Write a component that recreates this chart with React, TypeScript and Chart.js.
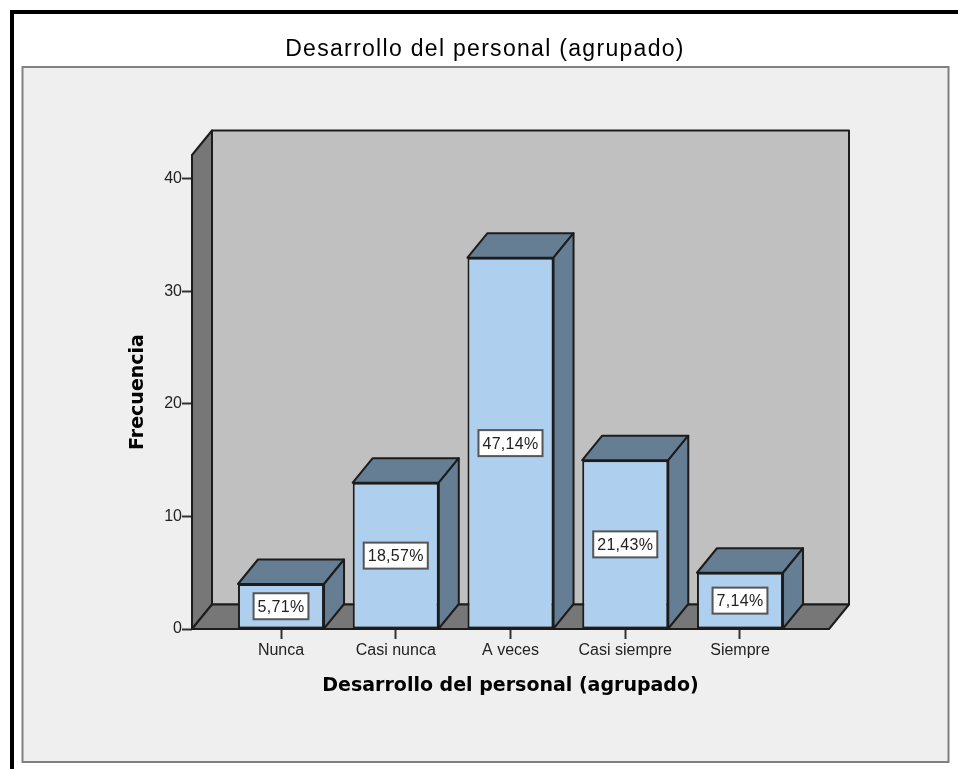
import React, { useEffect, useRef } from "react";
import { Chart, registerables } from "chart.js";

Chart.register(...registerables);

const categories = ["Nunca", "Casi nunca", "A veces", "Casi siempre", "Siempre"];
const frequencies = [4, 13, 33, 15, 5];
const percentLabels = ["5,71%", "18,57%", "47,14%", "21,43%", "7,14%"];
const yTicks = [0, 10, 20, 30, 40];
const chartTitle = "Desarrollo del personal (agrupado)";
const yTitle = "Frecuencia";

const DX = 20;
const DY = 24.5;
const LINE = "#1c1c1c";
const FONT = "'Liberation Sans', Arial, sans-serif";
const BOLD = "'DejaVu Sans', sans-serif";

function poly(ctx: CanvasRenderingContext2D, pts: number[][], fill: string) {
  ctx.beginPath();
  pts.forEach((p, i) => (i ? ctx.lineTo(p[0], p[1]) : ctx.moveTo(p[0], p[1])));
  ctx.closePath();
  ctx.fillStyle = fill;
  ctx.fill();
  ctx.lineWidth = 2;
  ctx.lineJoin = "round";
  ctx.strokeStyle = LINE;
  ctx.stroke();
}

const scenePlugin = {
  id: "scene",
  afterLayout(chart: any) {
    const tb = chart.titleBlock;
    if (tb && !tb.__spaced) {
      const orig = tb.draw.bind(tb);
      tb.draw = () => {
        const c = chart.ctx;
        c.letterSpacing = "1.3px";
        orig();
        c.letterSpacing = "0px";
      };
      tb.__spaced = true;
    }
  },
  beforeDraw(chart: any) {
    const ctx = chart.ctx;
    ctx.save();
    ctx.fillStyle = "#ffffff";
    ctx.fillRect(0, 0, 958, 769);
    ctx.fillStyle = "#000000";
    ctx.fillRect(10, 10, 948, 4);
    ctx.fillRect(10, 10, 4, 759);
    ctx.fillStyle = "#efefef";
    ctx.fillRect(22, 67, 927, 695);
    ctx.strokeStyle = "#808080";
    ctx.lineWidth = 2;
    ctx.strokeRect(22.5, 67, 926, 695);
    ctx.restore();
  },
  beforeDatasetsDraw(chart: any) {
    const ctx = chart.ctx;
    const { left: l, right: r, top: t, bottom: b } = chart.chartArea;
    ctx.save();
    poly(ctx, [[l + DX, t - DY], [r + DX, t - DY], [r + DX, b - DY], [l + DX, b - DY]], "#c0c0c0");
    poly(ctx, [[l, t], [l + DX, t - DY], [l + DX, b - DY], [l, b]], "#777777");
    poly(ctx, [[l, b], [l + DX, b - DY], [r + DX, b - DY], [r, b]], "#777777");
    chart.getDatasetMeta(0).data.forEach((el: any) => {
      const p = el.getProps(["x", "y", "base", "width"], true);
      const x0 = p.x - p.width / 2;
      const x1 = p.x + p.width / 2;
      poly(ctx, [[x0, p.y], [x0 + DX, p.y - DY], [x1 + DX, p.y - DY], [x1, p.y]], "#667e94");
      poly(ctx, [[x1, p.y], [x1 + DX, p.y - DY], [x1 + DX, p.base - DY], [x1, p.base]], "#667e94");
    });
    ctx.restore();
  },
  afterDatasetsDraw(chart: any) {
    const ctx = chart.ctx;
    ctx.save();
    chart.getDatasetMeta(0).data.forEach((el: any, i: number) => {
      const p = el.getProps(["x", "y", "base"], true);
      const cy = (p.y + p.base) / 2;
      ctx.font = `16px ${FONT}`;
      ctx.letterSpacing = "0.3px";
      const text = percentLabels[i];
      const w = ctx.measureText(text).width + 8;
      const h = 26;
      ctx.fillStyle = "#ffffff";
      ctx.fillRect(p.x - w / 2, cy - h / 2, w, h);
      ctx.strokeStyle = "#555555";
      ctx.lineWidth = 2;
      ctx.strokeRect(p.x - w / 2, cy - h / 2, w, h);
      ctx.fillStyle = "#222222";
      ctx.textAlign = "center";
      ctx.textBaseline = "middle";
      ctx.fillText(text, p.x, cy + 1);
      ctx.letterSpacing = "0px";
    });
    ctx.restore();
  },
};

export default function App() {
  const ref = useRef<HTMLCanvasElement>(null);
  useEffect(() => {
    const chart = new Chart(ref.current as HTMLCanvasElement, {
      type: "bar",
      data: {
        datasets: [
          {
            data: frequencies.map((v, i) => ({ x: i, y: v })),
            backgroundColor: "#aecfee",
            borderColor: LINE,
            borderWidth: 2,
            borderSkipped: false,
            categoryPercentage: 1,
            barPercentage: 0.75,
          } as any,
        ],
      },
      options: {
        responsive: false,
        animation: false,
        devicePixelRatio: 1,
        events: [],
        layout: { padding: { left: 141, right: 129, top: 0, bottom: 65 } },
        plugins: {
          legend: { display: false },
          tooltip: { enabled: false },
          title: {
            display: true,
            text: chartTitle,
            color: "#000000",
            font: { family: FONT, size: 23, weight: "normal", lineHeight: 1.2 },
            padding: { top: 36, bottom: 91.4 },
          },
        },
        scales: {
          x: {
            type: "linear",
            offset: false,
            min: -0.7756,
            max: 4.7756,
            afterBuildTicks: (s: any) => {
              s.ticks = categories.map((_, i) => ({ value: i }));
            },
            afterFit: (s: any) => {
              s.height = 75;
            },
            grid: { display: true, offset: false, drawOnChartArea: false, drawTicks: true, tickLength: 10, tickColor: "#333333", tickWidth: 2 },
            border: { display: false },
            ticks: {
              callback: (_: any, i: number) => categories[i],
              color: "#222222",
              font: { family: FONT, size: 16 },
              padding: 2,
              maxRotation: 0,
              autoSkip: false,
            },
            title: {
              display: true,
              text: chartTitle,
              color: "#000000",
              font: { family: BOLD, size: 19, weight: "bold", lineHeight: 1.2 },
              padding: { top: 0, bottom: 6.6 },
            },
          },
          y: {
            type: "linear",
            min: 0,
            max: 42.13,
            afterBuildTicks: (s: any) => {
              s.ticks = yTicks.map((v) => ({ value: v }));
            },
            afterFit: (s: any) => {
              s.width = 51;
            },
            grid: { display: true, drawOnChartArea: false, drawTicks: true, tickLength: 10, tickColor: "#333333", tickWidth: 2 },
            border: { display: false },
            ticks: {
              color: "#222222",
              font: { family: FONT, size: 16 },
              padding: 0,
            },
            title: {
              display: true,
              text: yTitle,
              color: "#000000",
              font: { family: BOLD, size: 19, weight: "bold", lineHeight: 1.2 },
              padding: { top: -14.4, bottom: 0 },
            },
          },
        },
      },
      plugins: [scenePlugin],
    } as any);
    return () => chart.destroy();
  }, []);
  return (
    <canvas
      ref={ref}
      width={958}
      height={769}
      style={{ position: "absolute", left: 0, top: 0, display: "block" }}
    />
  );
}
